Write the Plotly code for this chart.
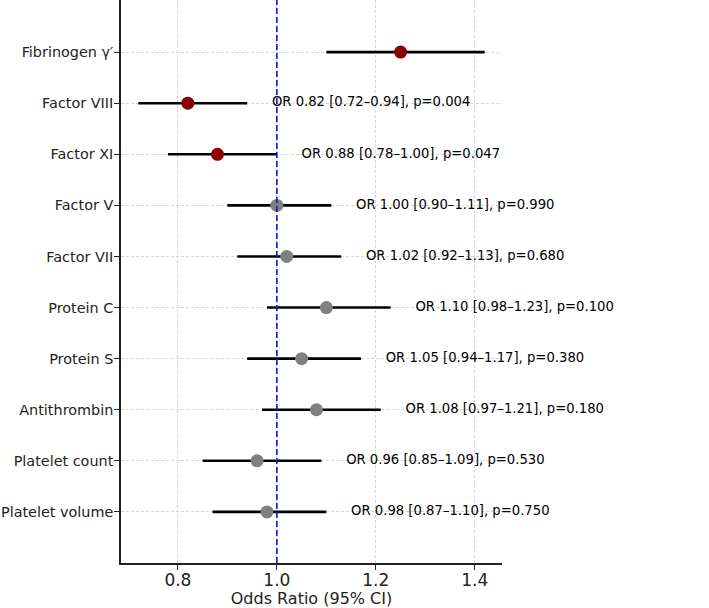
import plotly.graph_objects as go

labels = ["Fibrinogen γ′", "Factor VIII", "Factor XI", "Factor V", "Factor VII",
          "Protein C", "Protein S", "Antithrombin", "Platelet count", "Platelet volume"]
odds = [1.25, 0.82, 0.88, 1.00, 1.02, 1.10, 1.05, 1.08, 0.96, 0.98]
lower = [1.10, 0.72, 0.78, 0.90, 0.92, 0.98, 0.94, 0.97, 0.85, 0.87]
upper = [1.42, 0.94, 1.00, 1.11, 1.13, 1.23, 1.17, 1.21, 1.09, 1.10]
pvals = [0.001, 0.004, 0.047, 0.990, 0.680, 0.100, 0.380, 0.180, 0.530, 0.750]

FONT = "DejaVu Sans"
fig = go.Figure()

ypos = list(range(len(labels)))

# CI lines
for i in ypos:
    fig.add_trace(go.Scatter(x=[lower[i], upper[i]], y=[i, i], mode="lines",
                             line=dict(color="black", width=2.6), showlegend=False,
                             hoverinfo="skip"))

colors = ["#8b0000" if p < 0.05 else "#808080" for p in pvals]
fig.add_trace(go.Scatter(x=odds, y=ypos, mode="markers",
                         marker=dict(color=colors, size=13, line=dict(width=0)),
                         showlegend=False))

# annotations
texts = [f"OR {o:.2f} [{l:.2f}–{u:.2f}], p={p:.3f}" for o, l, u, p in zip(odds, lower, upper, pvals)]
fig.add_trace(go.Scatter(x=[u + 0.05 for u in upper], y=ypos, mode="text", text=texts,
                         textposition="middle right",
                         textfont=dict(family=FONT, size=13.2, color="black"),
                         showlegend=False, cliponaxis=False))

fig.add_shape(type="line", xref="x", yref="paper", x0=1.0, x1=1.0, y0=0, y1=1,
              line=dict(color="#1414c4", width=1.6, dash="6px,3px"), layer="above")

fig.update_layout(
    width=709, height=608,
    margin=dict(l=121, r=207, t=0, b=45),
    plot_bgcolor="white", paper_bgcolor="white",
    font=dict(family=FONT, color="#222222"),
)
fig.update_xaxes(range=[0.685, 1.455], tickvals=[0.8, 1.0, 1.2, 1.4],
                 ticktext=["0.8", "1.0", "1.2", "1.4"],
                 tickfont=dict(size=17, family=FONT, color="#222222"),
                 showgrid=True, gridcolor="#d6d6d6", griddash="3px,2px", gridwidth=0.8,
                 showline=True, linecolor="#222222", linewidth=1.6,
                 ticks="outside", ticklen=5, tickcolor="#222222", tickwidth=1.2,
                 ticklabelstandoff=-4, automargin=False,
                 zeroline=False,
                 title=dict(text="Odds Ratio (95% CI)", font=dict(size=16, family=FONT, color="#222222"),
                            standoff=2))
fig.update_yaxes(range=[10, -1.02], tickvals=ypos, ticktext=labels,
                 tickfont=dict(size=14.4, family=FONT, color="#222222"),
                 showgrid=True, gridcolor="#d6d6d6", griddash="3px,2px", gridwidth=0.8,
                 showline=True, linecolor="#222222", linewidth=1.6,
                 ticks="outside", ticklen=5, tickcolor="#222222", tickwidth=1.2,
                 ticklabelstandoff=-2, automargin=False,
                 zeroline=False)

fig.write_html("out.html")
